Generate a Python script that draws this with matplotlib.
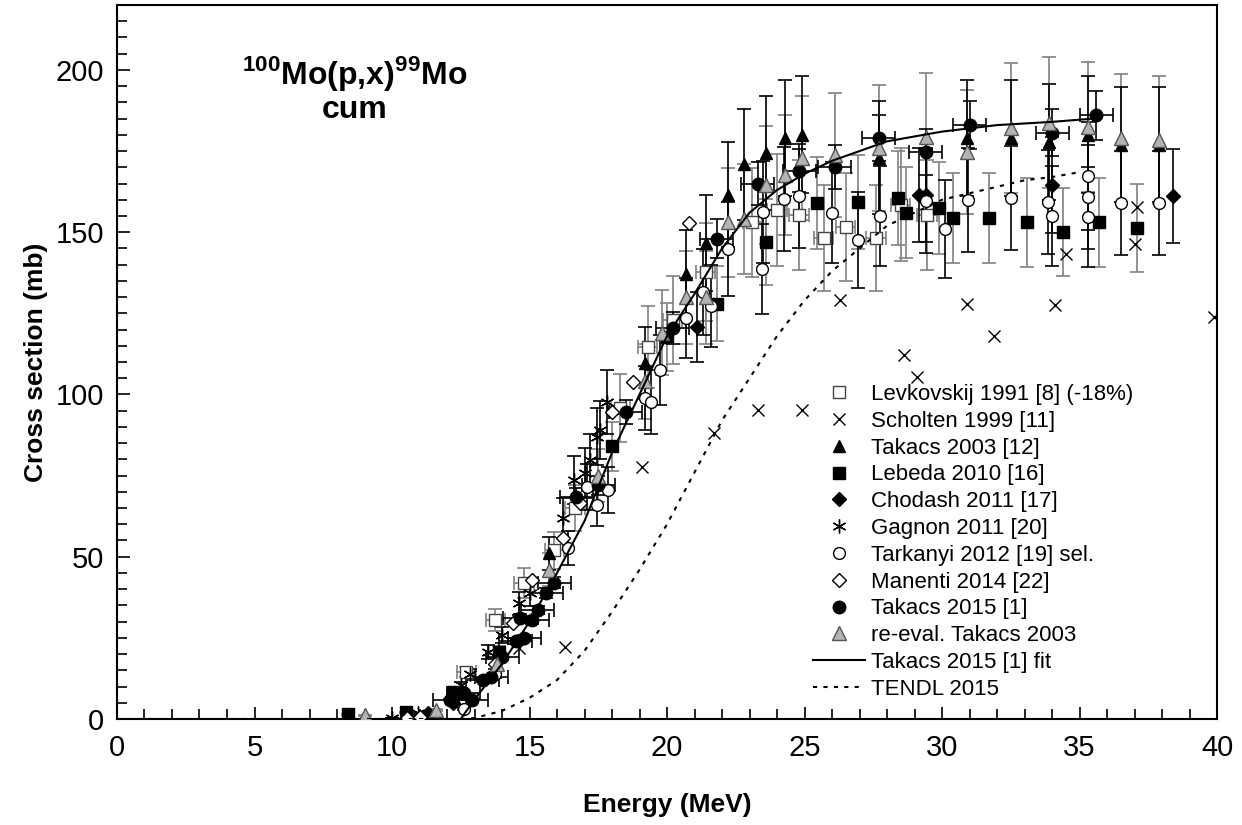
import matplotlib
matplotlib.use("Agg")
import matplotlib.pyplot as plt
from matplotlib.ticker import MultipleLocator

plt.rcParams['font.family'] = ['Liberation Sans', 'DejaVu Sans']
plt.rcParams['mathtext.fontset'] = 'custom'
plt.rcParams['mathtext.rm'] = 'Liberation Sans'
plt.rcParams['mathtext.bf'] = 'Liberation Sans:bold'

# ---- data ----
levk_e = [12.7, 13.75, 14.8, 15.9, 16.65, 18.3, 19.3, 20.2, 21.4, 23.1, 24.0, 24.8, 25.7, 26.5, 27.6, 28.5, 29.45]
levk_s = [14.5, 30.5, 41.9, 52, 65, 95.8, 114.6, 123, 137.8, 153, 156.9, 155.3, 148.2, 151.6, 148.2, 158.4, 155.3]

scho_e = [14.6, 16.3, 19.1, 21.7, 23.3, 24.9, 26.3, 28.6, 29.1, 30.9, 31.9, 34.1, 34.5, 37.0, 37.1, 39.9]
scho_s = [21.9, 22.2, 77.7, 88.1, 95.2, 95.2, 129, 112.2, 105.4, 128, 118, 127.6, 143.3, 146.4, 157.8, 124]

tak03_e = [15.7, 19.2, 20.7, 21.4, 22.2, 22.8, 23.6, 24.3, 24.9, 27.7, 30.9, 32.5, 33.9, 35.3, 36.5, 37.9]
tak03_s = [51, 109.7, 137, 146.7, 161.5, 171, 174.4, 179, 180, 173, 179, 179, 177.8, 180, 177, 177]

leb_e = [8.4, 10.5, 12.2, 13.9, 18.0, 20.0, 21.8, 23.6, 25.45, 26.95, 28.4, 28.7, 29.9, 30.4, 31.7, 33.1, 34.4, 35.7, 37.1]
leb_s = [1.5, 2, 8.3, 20.6, 84, 117.7, 128, 147, 159, 159.3, 160.5, 156, 157.4, 154.4, 154.4, 153, 150, 153, 151.3]

cho_e = [11.3, 12.2, 21.1, 29.15, 29.4, 34.0, 38.4]
cho_s = [1.8, 5, 120.8, 161.5, 161.5, 164.6, 161.2]

gag_e = [10.0, 10.95, 12.5, 12.85, 13.5, 14.0, 14.6, 15.0, 16.2, 16.6, 17.0, 17.2, 17.45, 17.55, 17.8]
gag_s = [0.3, 1.8, 10.5, 14, 20.7, 25.9, 35.7, 38.8, 62, 73.6, 75.8, 79.8, 87, 89, 97.7]

tar_e = [12.6, 13.75, 16.4, 17.1, 17.45, 17.85, 19.2, 19.4, 19.75, 20.7, 21.3, 21.6, 22.2, 23.45, 23.5, 24.25,
         24.8, 26.0, 26.95, 27.75, 29.4, 30.1, 30.95, 32.5, 33.85, 34.0, 35.3, 35.3, 35.3, 36.5, 37.9]
tar_s = [3, 14, 52.7, 71.5, 66, 70.6, 99, 97.7, 107.5, 123.6, 131.6, 127.3, 144.8, 138.7, 156.2, 160.2,
         161.2, 156, 147.5, 155, 159.6, 151, 160, 160.5, 159.3, 155, 167.3, 160.9, 154.7, 159, 159]

man_e = [10.55, 11.0, 13.75, 14.4, 15.1, 16.2, 16.85, 18.0, 18.75, 20.8]
man_s = [0.3, 0.6, 17, 29.6, 42.8, 55.8, 66.6, 94.6, 103.9, 152.8]

tak15_e = [12.1, 12.6, 12.9, 13.3, 13.6, 14.0, 14.5, 14.65, 14.8, 15.1, 15.3, 15.6, 15.9, 16.7, 17.5, 18.5,
           20.2, 21.8, 23.3, 24.8, 26.1, 27.7, 29.4, 31.0, 34.0, 35.6]
tak15_s = [6, 8, 6, 12, 13, 19, 24, 31, 25, 30.5, 33.6, 38.8, 42, 68.4, 72, 94.6,
           120.5, 148, 165, 169, 170, 179, 174.7, 183, 180.6, 186]

rev_e = [9.0, 11.6, 13.8, 15.7, 17.5, 19.2, 19.8, 20.7, 21.4, 22.2, 22.8, 23.6, 24.3, 24.9, 26.1, 27.7,
         29.4, 30.9, 32.5, 33.9, 35.3, 36.5, 37.9]
rev_s = [1.2, 2.8, 17, 46, 75, 104, 119, 130, 130, 153, 154, 164.6, 167.6, 172.9, 173.8, 176,
         179.4, 174.7, 182, 183.7, 182.5, 179, 178.4]

fit_e = [12.5, 13, 14, 15, 16, 17, 18, 19, 20, 21, 22, 23, 24, 25, 26, 27, 28, 30, 32, 34, 35.5]
fit_s = [0, 6, 17, 30, 45, 61, 82, 100, 118, 131, 145, 156, 163, 168, 172, 175, 178, 181, 183, 184, 185]

tendl_e = [0, 12.5, 13, 14, 15, 16, 17, 18, 19, 20, 21, 22, 23, 24, 25, 26, 27, 28, 29, 30, 31, 32, 33, 34, 35]
tendl_s = [0, 0, 0.3, 2.5, 6.5, 12, 21, 33, 46, 60, 76, 92, 105, 118, 129, 138, 145, 152, 156, 160, 162, 164,
           166, 167, 168.5]

# relative uncertainties of each data set
rel_err = {'levk': 0.11, 'tak03': 0.10, 'leb': 0.09, 'cho': 0.09, 'gag': 0.10, 'tar': 0.10,
           'tak15': 0.04, 'rev': 0.11}
tak15_xerr = 0.6
levk_xerr = 0.35

GRAY = '#808080'

fig = plt.figure(figsize=(12.42, 8.25), dpi=100)
ax = fig.add_axes([0.0942, 0.1285, 0.8857, 0.8654])


def bars(e, s, rel, color, xerr=None):
    ax.errorbar(e, s, yerr=[v * rel for v in s], xerr=xerr, fmt='none', ecolor=color,
                elinewidth=1.2, capsize=5, capthick=1.2, zorder=2)


bars(levk_e, levk_s, rel_err['levk'], GRAY, levk_xerr)
bars(leb_e, leb_s, rel_err['leb'], GRAY)
bars(rev_e, rev_s, rel_err['rev'], GRAY)
bars(tak03_e, tak03_s, rel_err['tak03'], 'black')
bars(cho_e, cho_s, rel_err['cho'], 'black')
bars(gag_e, gag_s, rel_err['gag'], 'black')
bars(tar_e, tar_s, rel_err['tar'], 'black')
bars(tak15_e, tak15_s, rel_err['tak15'], 'black', tak15_xerr)

ax.plot(levk_e, levk_s, 's', ms=8.5, mfc='white', mec='#444444', mew=1, label='Levkovskij 1991 [8] (-18%)', zorder=3)
ax.plot(scho_e, scho_s, 'x', ms=8, mec='black', mew=1, label='Scholten 1999 [11]', zorder=3)
ax.plot(tak03_e, tak03_s, '^', ms=9, mfc='black', mec='black', label='Takacs 2003 [12]', zorder=3)
ax.plot(leb_e, leb_s, 's', ms=8.5, mfc='black', mec='black', label='Lebeda 2010 [16]', zorder=3)
ax.plot(cho_e, cho_s, 'D', ms=7, mfc='black', mec='black', label='Chodash 2011 [17]', zorder=3)
ax.plot(gag_e, gag_s, ls='none', marker=(6, 2, 0), ms=10, mec='black', mew=1, label='Gagnon 2011 [20]', zorder=3)
ax.plot(tar_e, tar_s, 'o', ms=8.5, mfc='white', mec='black', mew=1, label='Tarkanyi 2012 [19] sel.', zorder=3)
ax.plot(man_e, man_s, 'D', ms=7, mfc='white', mec='black', mew=1, label='Manenti 2014 [22]', zorder=3)
ax.plot(tak15_e, tak15_s, 'o', ms=9, mfc='black', mec='black', label='Takacs 2015 [1]', zorder=4)
ax.plot(rev_e, rev_s, '^', ms=9.5, mfc='#b3b3b3', mec='#555555', mew=1, label='re-eval. Takacs 2003', zorder=4)
ax.plot(fit_e, fit_s, '-', color='black', lw=1.5, label='Takacs 2015 [1] fit', zorder=5)
ax.plot(tendl_e, tendl_s, color='black', lw=1.5, ls=(0, (2, 3)), label='TENDL 2015', zorder=5)

ax.set_xlim(0, 40)
ax.set_ylim(0, 220)
ax.xaxis.set_major_locator(MultipleLocator(5))
ax.xaxis.set_minor_locator(MultipleLocator(1))
ax.yaxis.set_major_locator(MultipleLocator(50))
ax.yaxis.set_minor_locator(MultipleLocator(5))
ax.set_yticks([0, 50, 100, 150, 200])
ax.tick_params(which='both', direction='in', width=1.2)
ax.tick_params(which='major', length=9, labelsize=21)
ax.tick_params(which='minor', length=7)
ax.tick_params(axis='x', pad=11)
ax.tick_params(axis='y', pad=9)
for sp in ax.spines.values():
    sp.set_linewidth(1.5)

ax.set_xlabel('Energy (MeV)', fontsize=19, fontweight='bold', labelpad=22)
ax.set_ylabel('Cross section (mb)', fontsize=19, fontweight='bold', labelpad=6)

ax.text(8.65, 195.7, r'$^{\mathbf{100}}$Mo(p,x)$^{\mathbf{99}}$Mo', fontsize=23, fontweight='bold',
        ha='center', va='baseline')
ax.text(8.65, 185.2, 'cum', fontsize=23, fontweight='bold', ha='center', va='baseline')

ax.legend(loc='upper left', bbox_to_anchor=(0.633, 0.469), frameon=False, fontsize=16,
          handlelength=2.34, handletextpad=0.27, labelspacing=0.26, borderpad=0, borderaxespad=0,
          numpoints=1)

fig.savefig('out.png', dpi=100)
